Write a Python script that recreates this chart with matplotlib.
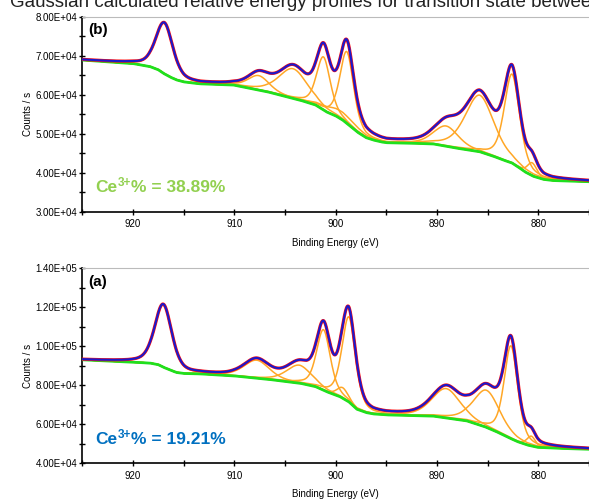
import numpy as np
import matplotlib
matplotlib.use("Agg")
import matplotlib.pyplot as plt
from matplotlib.ticker import MultipleLocator, FuncFormatter
from matplotlib.transforms import offset_copy

plt.rcParams['font.family'] = ['Liberation Sans', 'DejaVu Sans']

# Panel (b): Shirley background
bg_b_energy = [925, 920, 918.3, 917.5, 917, 916.3, 915.7, 915, 914.4, 913.4, 910.1, 906.8,
               903.5, 902, 900.9, 900, 899.3, 898.5, 897.9, 897, 896.3, 895.5, 895, 893,
               890.4, 888.5, 887.1, 885.8, 884.5, 883.5, 882.6, 882, 881.3, 880.5, 879.5,
               878.6, 875]
bg_b_counts = [68900, 68000, 67200, 66400, 65500, 64500, 63800, 63300, 63100, 62800, 62500, 60800,
               58600, 57400, 55600, 54600, 53500, 51800, 50500, 49000, 48400, 47900, 47700, 47600,
               47400, 46500, 45900, 45400, 44300, 43300, 42500, 41500, 40200, 39100, 38300,
               38000, 37700]
# fitted components (b): position (eV), height above background, FWHM (eV)
peak_b_pos = [916.9, 907.6, 904.2, 901.2, 899.5, 898.9, 889.1, 885.8, 882.6, 880.6]
peak_b_height = [13000, 3700, 7600, 13600, 2000, 18400, 5200, 14500, 22800, 3300]
peak_b_fwhm = [2.0, 2.5, 3.4, 1.6, 4.0, 1.6, 2.9, 3.4, 1.8, 1.1]

# Panel (a)
bg_a_energy = [925, 920, 918.3, 917.5, 917, 916.3, 915.7, 915, 914.4, 913.4, 910.1, 906.8,
               903.5, 902, 900.9, 899.6, 898.7, 897.9, 897, 896.3, 895, 890.4, 887.1,
               885.3, 884.2, 883.1, 882.1, 881.1, 880.1, 878.1, 875]
bg_a_counts = [93000, 91800, 91300, 90500, 89200, 87700, 86500, 86000, 85900, 85800, 84800, 83100,
               81000, 79300, 76700, 74200, 71500, 67700, 66000, 65300, 64800, 64200, 61800,
               58800, 56400, 53600, 51200, 49400, 48200, 47700, 47200]
peak_a_pos = [917.0, 907.8, 903.6, 901.2, 899.3, 898.7, 889.1, 885.1, 882.7, 880.7]
peak_a_height = [32000, 9200, 9200, 31000, 5400, 43500, 15000, 19000, 47500, 5000]
peak_a_fwhm = [2.0, 3.0, 3.0, 1.6, 1.3, 1.6, 3.3, 3.1, 1.6, 1.0]

panels = [
    ("(b)", "38.89%", "#92D050", bg_b_energy, bg_b_counts,
     peak_b_pos, peak_b_height, peak_b_fwhm, (30000, 80000), 10000, 5000),
    ("(a)", "19.21%", "#0070C0", bg_a_energy, bg_a_counts,
     peak_a_pos, peak_a_height, peak_a_fwhm, (40000, 140000), 20000, 10000),
]


def gl(x, c, h, w, eta=0.45):
    g = np.exp(-4 * np.log(2) * ((x - c) / w) ** 2)
    l = 1 / (1 + 4 * ((x - c) / w) ** 2)
    return h * ((1 - eta) * g + eta * l)


fig = plt.figure(figsize=(5.89, 5.01), dpi=100)
fig.text(0.017, 1 - 7 / 501, "Gaussian calculated relative energy profiles for transition state between",
         fontsize=13.5, color="#222222", va="baseline")
renderer = fig.canvas.get_renderer()

rects = [[0.1397, 0.5774, 0.8603, 0.3892], [0.1397, 0.0752, 0.8603, 0.3899]]
for rect, (tag, ce, ce_col, bge, bgc, pos, hts, fw, ylim, major, minor) in zip(rects, panels):
    ax = fig.add_axes(rect)
    e = np.linspace(925, 875, 1200)
    bg = np.interp(e, bge[::-1], bgc[::-1])
    env = bg.copy()
    for c, h, w in zip(pos, hts, fw):
        comp = gl(e, c, h, w)
        env += comp
        ax.plot(e, bg + comp, color="#FFA726", lw=1.1, zorder=2)
    ax.plot(e, bg, color="#1EE01E", lw=2.0, zorder=3)
    ax.plot(e, env, color="#FF1010", lw=2.3, zorder=4)
    ax.plot(e, env, color="#1A1ACC", lw=1.5, zorder=5)

    ax.set_xlim(925, 875)
    ax.set_ylim(*ylim)
    ax.xaxis.set_major_locator(MultipleLocator(10))
    ax.xaxis.set_minor_locator(MultipleLocator(5))
    ax.yaxis.set_major_locator(MultipleLocator(major))
    ax.yaxis.set_minor_locator(MultipleLocator(minor))
    ax.yaxis.set_major_formatter(FuncFormatter(lambda v, p: f"{v:.2E}"))
    ax.tick_params(which="both", direction="inout", labelsize=7, width=1)
    ax.tick_params(axis="y", pad=1)
    ax.tick_params(axis="x", pad=3)
    ax.tick_params(which="major", length=5)
    ax.tick_params(which="minor", length=4)
    ax.spines["right"].set_visible(False)
    ax.spines["top"].set_color("#BBBBBB")
    ax.spines["left"].set_linewidth(1.2)
    ax.spines["bottom"].set_linewidth(1.2)
    ax.set_xlabel("Binding Energy (eV)", fontsize=7, labelpad=6)
    ax.set_ylabel("Counts / s", fontsize=7, labelpad=2)
    ax.text(0.012, 0.93, tag, transform=ax.transAxes, fontsize=11, fontweight="bold", va="center")

    # "Ce3+% = xx.xx%" built from three pieces so the superscript sits tight
    t1 = ax.text(0.025, 0.10, "Ce", transform=ax.transAxes, fontsize=12.5,
                 fontweight="bold", color=ce_col, va="baseline")
    w1 = t1.get_window_extent(renderer).width * 72 / fig.dpi
    t2 = ax.text(0.025, 0.10, "3+", fontsize=8.5, fontweight="bold", color=ce_col, va="baseline",
                 transform=offset_copy(ax.transAxes, fig, x=w1 + 0.3, y=4.5, units="points"))
    w2 = t2.get_window_extent(renderer).width * 72 / fig.dpi
    ax.text(0.025, 0.10, "% = " + ce, fontsize=12.5, fontweight="bold", color=ce_col, va="baseline",
            transform=offset_copy(ax.transAxes, fig, x=w1 + w2 + 0.6, y=0, units="points"))

fig.savefig("out.png", dpi=100)
